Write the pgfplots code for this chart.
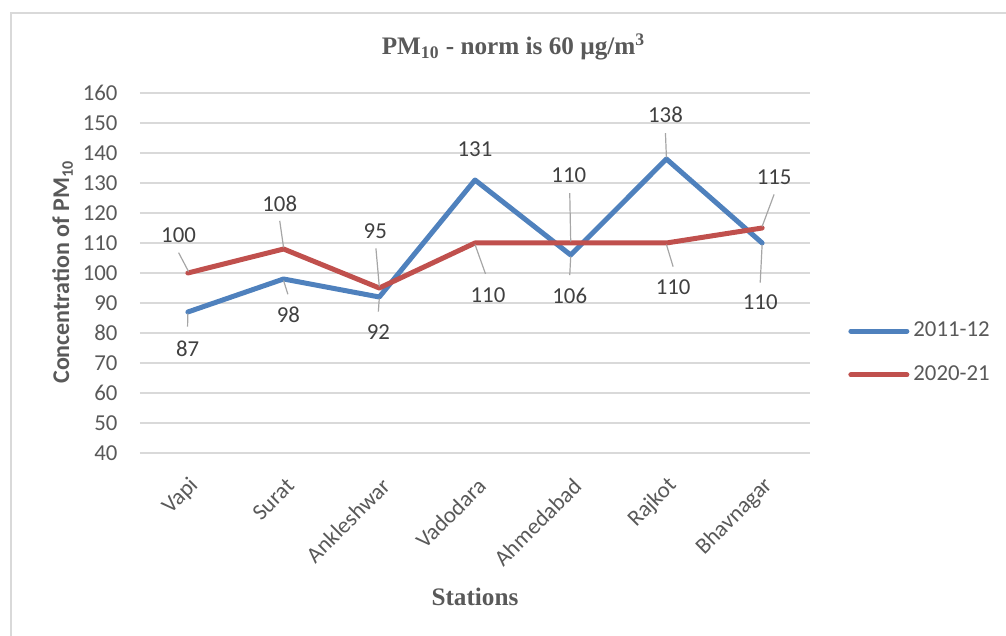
\documentclass[border=0pt]{standalone}
\usepackage{pgfplots}
\pgfplotsset{compat=1.18}
\usepackage{fontspec}
\setmainfont{Carlito}
\newfontfamily\timesfont{Liberation Serif}
\definecolor{blue1}{HTML}{4F81BD}
\definecolor{red1}{HTML}{C0504D}
\definecolor{txt}{HTML}{595959}
\definecolor{lbl}{HTML}{404040}
\definecolor{gridc}{HTML}{D9D9D9}
\definecolor{leader}{HTML}{A6A6A6}
\begin{document}
\begin{tikzpicture}
\path[use as bounding box] (-70pt,-91.5pt) rectangle (433pt,226.5pt);
\draw[gridc, line width=1pt] (-64.5pt,-91.5pt) -- (-64.5pt,220pt) -- (433pt,220pt);
\begin{axis}[
  at={(0pt,0pt)}, anchor=south west,
  scale only axis, width=335pt, height=180pt,
  xmin=-0.5, xmax=6.5, ymin=40, ymax=160,
  ytick={40,50,...,160},
  xtick={0,...,6},
  xticklabels={Vapi,Surat,Ankleshwar,Vadodara,Ahmedabad,Rajkot,Bhavnagar},
  axis line style={draw=none},
  major tick length=0pt,
  ymajorgrids, grid style={gridc, line width=0.8pt},
  /pgf/number format/assume math mode=true,
  tick label style={font=\fontsize{11.4}{13}\selectfont, text=txt},
  yticklabel style={xshift=-7.7pt},
  xticklabel style={xshift=3.5pt, yshift=-14.5pt, rotate=45, anchor=east, inner sep=0pt},
  clip=false,
  legend style={at={(1.0567,0.278)}, anchor=west, draw=none, fill=none,
    font=\fontsize{11.4}{13}\selectfont, text=txt, row sep=9pt, inner sep=0pt},
  legend cell align=left,
  legend image code/.code={\draw[#1, line width=2.5pt, line cap=round] (0pt,0pt) -- (28pt,0pt);},
]
\addplot[blue1, line width=2.5pt, line join=round, line cap=round] coordinates {(0,87)(1,98)(2,92)(3,131)(4,106)(5,138)(6,110)};
\addlegendentry{2011-12}
\addplot[red1, line width=2.5pt, line join=round, line cap=round] coordinates {(0,100)(1,108)(2,95)(3,110)(4,110)(5,110)(6,115)};
\addlegendentry{2020-21}
% leader lines
\begin{scope}[leader, line width=0.6pt]
\draw (axis cs:-0.097,106.8) -- (axis cs:0.007,100.5);
\draw (axis cs:0.96,117.4) -- (axis cs:1.0,108.5);
\draw (axis cs:1.965,108.2) -- (axis cs:2.0,95.5);
\draw (axis cs:3.0,109.5) -- (axis cs:3.11,99.7);
\draw (axis cs:3.99,126.6) -- (axis cs:4.0,110.5);
\draw (axis cs:5.0,109.5) -- (axis cs:5.07,102.1);
\draw (axis cs:6.125,126.2) -- (axis cs:6.0,115.5);
\draw (axis cs:0.0,86.5) -- (axis cs:-0.003,82.1);
\draw (axis cs:1.0,97.5) -- (axis cs:1.045,92.9);
\draw (axis cs:2.0,91.5) -- (axis cs:1.99,87.1);
\draw (axis cs:4.0,105.5) -- (axis cs:3.99,99.3);
\draw (axis cs:4.99,146.6) -- (axis cs:5.0,138.5);
\draw (axis cs:6.0,109.5) -- (axis cs:5.98,96.8);
\end{scope}
\begin{scope}[every node/.style={font=\fontsize{11.4}{13}\selectfont, text=lbl}]
\node at (axis cs:-0.097,112.7) {100};
\node at (axis cs:0.96,123.2) {108};
\node at (axis cs:1.958,113.8) {95};
\node at (axis cs:3.136,92.7) {110};
\node at (axis cs:3.98,132.7) {110};
\node at (axis cs:5.07,95.4) {110};
\node at (axis cs:6.125,131.9) {115};
\node at (axis cs:-0.003,74.9) {87};
\node at (axis cs:1.05,86) {98};
\node at (axis cs:1.99,80.2) {92};
\node at (axis cs:3.0,141.2) {131};
\node at (axis cs:3.99,92.4) {106};
\node at (axis cs:4.99,152.7) {138};
\node at (axis cs:5.98,90.2) {110};
\end{scope}
\end{axis}
\node[rotate=90, font=\bfseries\fontsize{12}{14}\selectfont, text=txt] at (-38.7pt,90.5pt) {Concentration of PM\textsubscript{10}};
\node[font=\timesfont\bfseries\fontsize{12.6}{15}\selectfont, text=txt] at (186.75pt,203pt) {PM\textsubscript{10} - norm is 60 µg/m\textsuperscript{3}};
\node[font=\timesfont\bfseries\fontsize{12.6}{15}\selectfont, text=txt] at (167.5pt,-72pt) {Stations};
\end{tikzpicture}
\end{document}
